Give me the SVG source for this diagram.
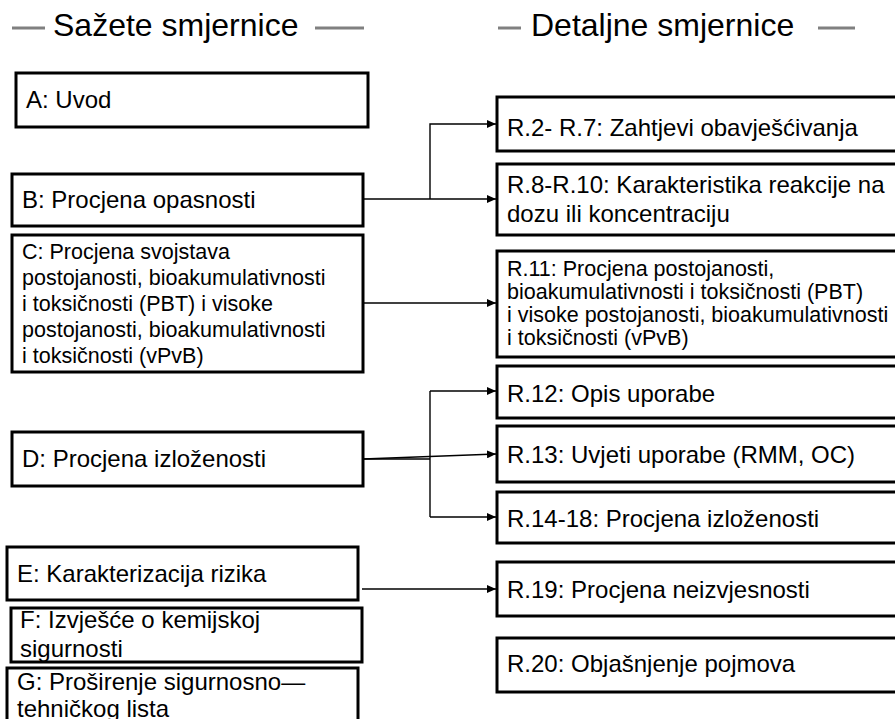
<svg xmlns="http://www.w3.org/2000/svg" width="895" height="719" viewBox="0 0 895 719">
  <style>
    text { font-family: "Liberation Sans", Arial, sans-serif; fill: #000; }
    .t24 { font-size: 24px; }
    .t21 { font-size: 21.5px; }
    .hdr { font-size: 32px; }
    .box { fill: #fff; stroke: #000; stroke-width: 3; }
    .dash { stroke: #808080; stroke-width: 3; }
    .conn { fill: none; stroke: #000; stroke-width: 1.4; }
  </style>
  <defs>
    <marker id="arrow" markerUnits="userSpaceOnUse" markerWidth="10" markerHeight="8" refX="9" refY="4" orient="auto">
      <path d="M0,0 L9,4 L0,8 Z" fill="#000"/>
    </marker>
  </defs>

  <!-- column headings -->
  <g id="heading-summary">
    <line class="dash" x1="12" y1="28" x2="45" y2="28"/>
    <text class="hdr" x="53" y="36">Sažete smjernice</text>
    <line class="dash" x1="315" y1="28" x2="364" y2="28"/>
  </g>
  <g id="heading-detail">
    <line class="dash" x1="498" y1="28" x2="521" y2="28"/>
    <text class="hdr" x="531" y="36">Detaljne smjernice</text>
    <line class="dash" x1="818" y1="28" x2="855" y2="28"/>
  </g>

  <!-- connectors -->
  <g id="connectors">
    <path class="conn" d="M363,199 H496" marker-end="url(#arrow)"/>
    <path class="conn" d="M430,199 V124 H496" marker-end="url(#arrow)"/>
    <path class="conn" d="M363,303 H496" marker-end="url(#arrow)"/>
    <path class="conn" d="M363,459 H430"/>
    <path class="conn" d="M430,391 V517"/>
    <path class="conn" d="M430,391 H496" marker-end="url(#arrow)"/>
    <path class="conn" d="M430,517 H496" marker-end="url(#arrow)"/>
    <path class="conn" d="M363,459 L496,454" marker-end="url(#arrow)"/>
    <path class="conn" d="M362,589 H496" marker-end="url(#arrow)"/>
  </g>

  <!-- summary guidance -->
  <g id="A">
    <rect class="box" x="16" y="73" width="352" height="54"/>
    <text class="t24" x="26" y="108">A: Uvod</text>
  </g>
  <g id="B">
    <rect class="box" x="12" y="174" width="351" height="52"/>
    <text class="t24" x="22" y="208">B: Procjena opasnosti</text>
  </g>
  <g id="C">
    <rect class="box" x="12" y="235" width="351" height="137"/>
    <text class="t21" x="22" y="259">C: Procjena svojstava</text>
    <text class="t21" x="22" y="285">postojanosti, bioakumulativnosti</text>
    <text class="t21" x="22" y="311">i toksičnosti (PBT) i visoke</text>
    <text class="t21" x="22" y="337">postojanosti, bioakumulativnosti</text>
    <text class="t21" x="22" y="363">i toksičnosti (vPvB)</text>
  </g>
  <g id="D">
    <rect class="box" x="12" y="432" width="351" height="54"/>
    <text class="t24" x="22" y="467">D: Procjena izloženosti</text>
  </g>
  <g id="E">
    <rect class="box" x="7" y="547" width="351" height="53"/>
    <text class="t24" x="17" y="582">E: Karakterizacija rizika</text>
  </g>
  <g id="F">
    <rect class="box" x="11" y="608" width="351" height="54"/>
    <text class="t24" x="20" y="628">F: Izvješće o kemijskoj</text>
    <text class="t24" x="20" y="657">sigurnosti</text>
  </g>
  <g id="G">
    <rect class="box" x="7" y="668" width="351" height="60"/>
    <text class="t24" x="17" y="690">G: Proširenje sigurnosno—</text>
    <text class="t24" x="17" y="717">tehničkog lista</text>
  </g>

  <!-- detailed guidance -->
  <g id="R2-R7">
    <rect class="box" x="497" y="97" width="410" height="54"/>
    <text class="t24" x="507" y="136">R.2- R.7: Zahtjevi obavješćivanja</text>
  </g>
  <g id="R8-R10">
    <rect class="box" x="497" y="164" width="410" height="71"/>
    <text class="t24" x="507" y="193">R.8-R.10: Karakteristika reakcije na</text>
    <text class="t24" x="507" y="222">dozu ili koncentraciju</text>
  </g>
  <g id="R11">
    <rect class="box" x="497" y="251" width="410" height="106"/>
    <text class="t21" x="507" y="276">R.11: Procjena postojanosti,</text>
    <text class="t21" x="507" y="299">bioakumulativnosti i toksičnosti (PBT)</text>
    <text class="t21" x="507" y="322">i visoke postojanosti, bioakumulativnosti</text>
    <text class="t21" x="507" y="345">i toksičnosti (vPvB)</text>
  </g>
  <g id="R12">
    <rect class="box" x="497" y="366" width="410" height="52"/>
    <text class="t24" x="507" y="402">R.12: Opis uporabe</text>
  </g>
  <g id="R13">
    <rect class="box" x="497" y="426" width="410" height="56"/>
    <text class="t24" x="507" y="463">R.13: Uvjeti uporabe (RMM, OC)</text>
  </g>
  <g id="R14-18">
    <rect class="box" x="497" y="492" width="410" height="51"/>
    <text class="t24" x="507" y="527">R.14-18: Procjena izloženosti</text>
  </g>
  <g id="R19">
    <rect class="box" x="497" y="562" width="410" height="54"/>
    <text class="t24" x="507" y="598">R.19: Procjena neizvjesnosti</text>
  </g>
  <g id="R20">
    <rect class="box" x="497" y="638" width="410" height="54"/>
    <text class="t24" x="507" y="672">R.20: Objašnjenje pojmova</text>
  </g>
</svg>
